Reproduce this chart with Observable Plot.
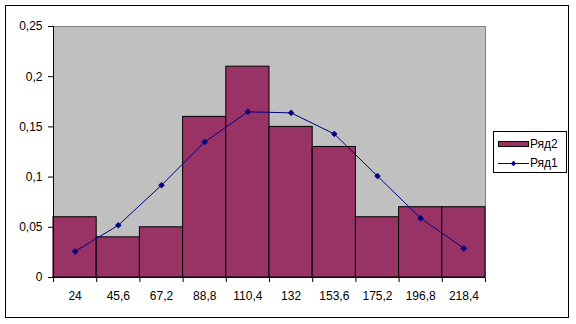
<!DOCTYPE html>
<html>
<head>
<meta charset="utf-8">
<script src="https://cdn.jsdelivr.net/npm/d3@7"></script>
<script src="https://cdn.jsdelivr.net/npm/@observablehq/plot@0.6"></script>
<style>
  html, body { margin: 0; padding: 0; background: #fff; }
  #wrap { position: relative; width: 576px; height: 324px; overflow: hidden; font-family: "Liberation Sans", Arial, sans-serif; }
  #border { position: absolute; left: 5px; top: 5px; width: 564px; height: 313px; box-sizing: border-box; border: 1px solid #000; pointer-events: none; }
  #chart { position: absolute; left: 0; top: 0; }
  #legend { position: absolute; left: 493px; top: 131px; width: 74px; height: 42px; box-sizing: border-box; border: 1px solid #000; background: #fff; font-size: 12px; color: #000; }
  .row { position: absolute; left: 4px; height: 14px; display: flex; align-items: center; }
  .row svg { display: block; }
  .row span { margin-left: 1px; line-height: 14px; }
</style>
</head>
<body>
<div id="wrap">
  <div id="chart"></div>
  <div id="border"></div>
  <div id="legend"></div>
</div>
<script>
const categories = ["24", "45,6", "67,2", "88,8", "110,4", "132", "153,6", "175,2", "196,8", "218,4"];
const series2 = [0.06, 0.04, 0.05, 0.16, 0.21, 0.15, 0.13, 0.06, 0.07, 0.07];      // Ряд2 (bars)
const series1 = [0.026, 0.052, 0.092, 0.135, 0.165, 0.164, 0.143, 0.101, 0.059, 0.029]; // Ряд1 (line)
const yTicks = [0, 0.05, 0.1, 0.15, 0.2, 0.25];
const yTickLabels = ["0", "0,05", "0,1", "0,15", "0,2", "0,25"];
const seriesNames = ["Ряд2", "Ряд1"];

const barColor = "#993366";
const lineColor = "#000080";

const rows = categories.map((c, i) => ({cat: c, i, bar: series2[i], line: series1[i]}));

const chart = Plot.plot({
  width: 576,
  height: 324,
  marginLeft: 53,
  marginTop: 26,
  marginRight: 91,
  marginBottom: 47,
  style: {fontFamily: "Liberation Sans, Arial, sans-serif", fontSize: "12px", background: "transparent", color: "#000", overflow: "visible"},
  x: {type: "linear", domain: [0, categories.length], ticks: d3.range(categories.length + 1), tickFormat: () => "", tickSize: 5, label: null},
  y: {domain: [0, 0.25], ticks: yTicks, tickFormat: d => yTickLabels[yTicks.findIndex(t => Math.abs(t - d) < 1e-9)], tickSize: 5, tickPadding: 6, label: null},
  marks: [
    Plot.frame({fill: "#c0c0c0", stroke: "#808080"}),
    Plot.rectY(rows, {x1: d => d.i, x2: d => d.i + 1, y: "bar", fill: barColor, stroke: "#000", strokeWidth: 1}),
    Plot.ruleX([0], {stroke: "#000"}),
    Plot.ruleY([0], {stroke: "#000"}),
    Plot.line(rows, {x: d => d.i + 0.5, y: "line", stroke: lineColor, strokeWidth: 1}),
    Plot.dot(rows, {x: d => d.i + 0.5, y: "line", symbol: "diamond2", r: 2.7, fill: lineColor, stroke: lineColor, strokeWidth: 0.5}),
    Plot.text(rows, {x: d => d.i + 0.5, y: () => 0, dy: 19, text: "cat", fill: "#000", fontSize: 12})
  ]
});
document.getElementById("chart").appendChild(chart);

const legend = document.getElementById("legend");
legend.innerHTML = `
  <div class="row" style="top:5px">
    <svg width="31" height="7"><rect x="0.5" y="0.5" width="30" height="5" fill="${barColor}" stroke="#000"/></svg>
    <span>${seriesNames[0]}</span>
  </div>
  <div class="row" style="top:24px">
    <svg width="31" height="7"><line x1="0" y1="3.5" x2="31" y2="3.5" stroke="${lineColor}"/><path d="M15.5,0.8L18.2,3.5L15.5,6.2L12.8,3.5Z" fill="${lineColor}"/></svg>
    <span>${seriesNames[1]}</span>
  </div>`;
</script>
</body>
</html>
